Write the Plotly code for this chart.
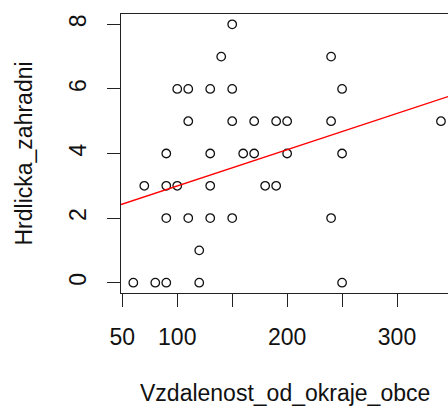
import plotly.graph_objects as go

# Data
vzdalenost = [150,
              140, 240,
              100, 110, 130, 150, 250,
              110, 150, 170, 190, 200, 240, 340,
              90, 130, 160, 170, 200, 250,
              70, 90, 100, 130, 180, 190,
              90, 110, 130, 150, 240,
              120,
              60, 80, 90, 120, 250]
hrdlicka = [8,
            7, 7,
            6, 6, 6, 6, 6,
            5, 5, 5, 5, 5, 5, 5,
            4, 4, 4, 4, 4, 4,
            3, 3, 3, 3, 3, 3,
            2, 2, 2, 2, 2,
            1,
            0, 0, 0, 0, 0]

# regression line coefficients
fit_intercept = 1.872
fit_slope = 0.01123

x_ticks = [50, 100, 150, 200, 250, 300]
x_ticklabels = ["50", "100", "", "200", "", "300"]
y_ticks = [0, 2, 4, 6, 8]
y_ticklabels = ["0", "2", "4", "6", "8"]

x_range = [48.8, 346.4]
y_range = [-0.32, 8.32]

FONT = "Liberation Sans, Arial, sans-serif"
FS = 23

fig = go.Figure()
fig.add_trace(go.Scatter(
    x=vzdalenost, y=hrdlicka, mode="markers",
    marker=dict(symbol="circle-open", size=8.5, color="#111111",
                line=dict(width=1.3, color="#111111")),
    cliponaxis=False, showlegend=False, hoverinfo="x+y"))

line_x = [x_range[0], x_range[1]]
line_y = [fit_intercept + fit_slope * v for v in line_x]
fig.add_trace(go.Scatter(
    x=line_x, y=line_y, mode="lines",
    line=dict(color="#ff0000", width=1.3),
    showlegend=False, hoverinfo="skip"))

axis_common = dict(showgrid=False, zeroline=False, ticks="outside",
                   ticklen=13, tickwidth=1.3, tickcolor="#222222",
                   linecolor="#222222", linewidth=1.4, showline=True,
                   tickfont=dict(family=FONT, size=FS, color="#111111"))

fig.update_xaxes(range=x_range, tickmode="array", tickvals=x_ticks,
                 ticktext=x_ticklabels, mirror=True,
                 ticklabelstandoff=10, **axis_common)
fig.update_yaxes(range=y_range, tickmode="array", tickvals=y_ticks,
                 ticktext=y_ticklabels, mirror=False, tickangle=-90,
                 ticklabelstandoff=12, **axis_common)

fig.add_annotation(text="Vzdalenost_od_okraje_obce", xref="paper", yref="paper",
                   x=0.5, y=0, yshift=-100, xanchor="center", yanchor="middle",
                   showarrow=False, font=dict(family=FONT, size=FS, color="#111111"))
fig.add_annotation(text="Hrdlicka_zahradni", xref="paper", yref="paper",
                   x=0, y=0.5, xshift=-98, xanchor="center", yanchor="middle",
                   textangle=-90, showarrow=False,
                   font=dict(family=FONT, size=FS, color="#111111"))

fig.update_layout(width=448, height=410,
                  margin=dict(l=121, r=0, t=14, b=117, autoexpand=False),
                  paper_bgcolor="white", plot_bgcolor="white")

fig.write_html("out.html")
